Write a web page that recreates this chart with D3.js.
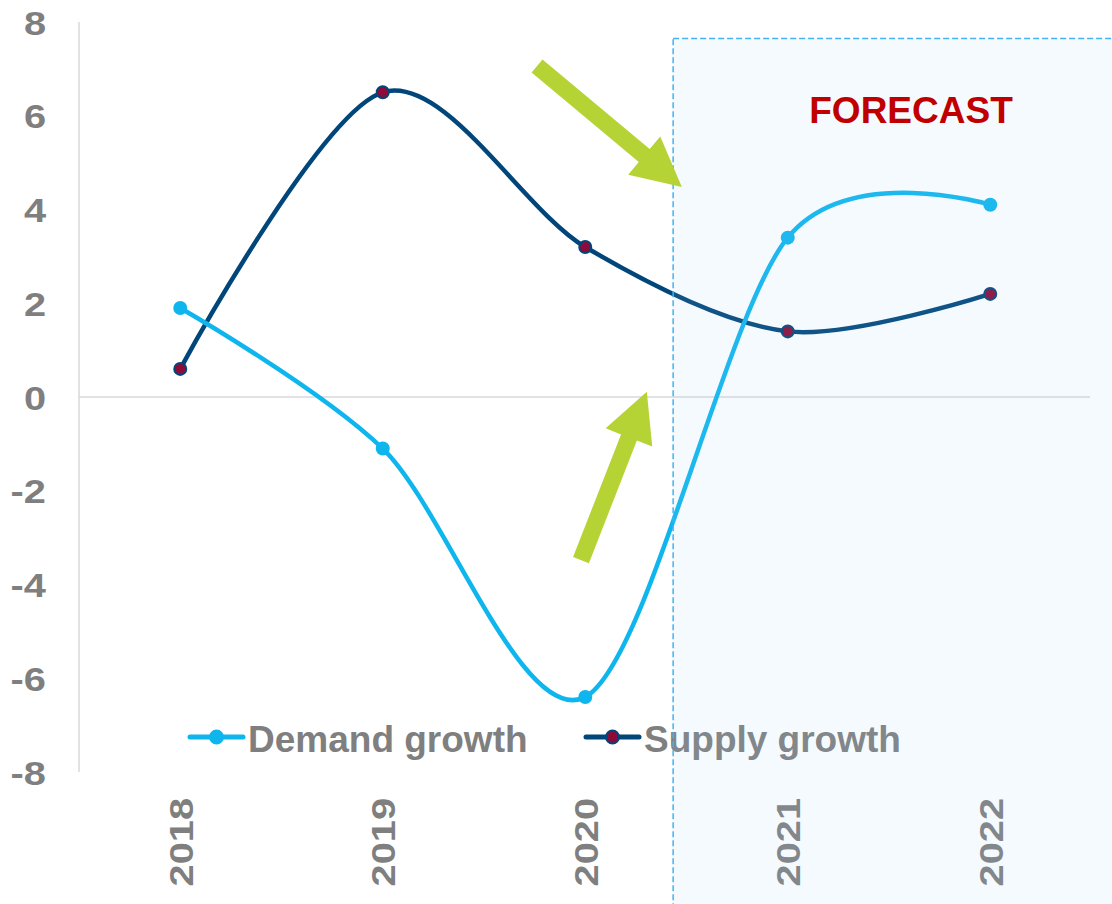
<!DOCTYPE html>
<html>
<head>
<meta charset="utf-8">
<script src="https://cdn.jsdelivr.net/npm/d3@7/dist/d3.min.js"></script>
<style>
  html, body { margin: 0; padding: 0; background: #ffffff; }
  svg { display: block; font-family: "Liberation Sans", Arial, sans-serif; }
</style>
</head>
<body>
<svg id="chart" width="1112" height="904"></svg>
<script>
// ---- data ----
const years = ["2018", "2019", "2020", "2021", "2022"];
const demandGrowth = [1.9, -1.1, -6.4, 3.4, 4.1];
const supplyGrowth = [0.6, 6.5, 3.2, 1.4, 2.2];
const seriesNames = ["Demand growth", "Supply growth"];
const yTicks = [-8, -6, -4, -2, 0, 2, 4, 6, 8];
const forecastLabel = "FORECAST";
// annotation arrows in data space: [fractional year index, value] tail -> tip
const arrows = [
  { from: [1.762, 7.06], to: [2.477, 4.48] },
  { from: [1.979, -3.48], to: [2.304, 0.11] }
];
const forecastStart = 2.434; // fractional year index where forecast area begins
const forecastTop = 7.65;

// ---- layout ----
const W = 1112, H = 904;
const plotLeft = 79, plotRight = 1091.5, plotTop = 22, plotBottom = 772;
const svg = d3.select("#chart");

const x = d3.scalePoint().domain(years).range([plotLeft, plotRight]).padding(0.5);
const step = x.step();
const xi = i => x(years[0]) + i * step;
const y = d3.scaleLinear().domain([-8, 8]).range([plotBottom, plotTop]);

const gray = "#7f7f7f";
const demandColor = "#0fb6ee";
const supplyColor = "#00467a";
const markerFill = "#8b0b3a";
const textStretch = 1.17;

// axis line
svg.append("line")
  .attr("x1", plotLeft).attr("x2", plotLeft)
  .attr("y1", y(8)).attr("y2", y(-8))
  .attr("stroke", "#d9d9d9").attr("stroke-width", 1.5);
// zero line
svg.append("line")
  .attr("x1", plotLeft).attr("x2", 1090)
  .attr("y1", y(0)).attr("y2", y(0))
  .attr("stroke", "#d9d9d9").attr("stroke-width", 1.5);

// y axis
const yAxisG = svg.append("g")
  .attr("transform", `translate(${plotLeft},0)`)
  .call(d3.axisLeft(y).tickValues(yTicks).tickSize(0).tickFormat(d => String(d)));
yAxisG.select(".domain").remove();
yAxisG.selectAll("text")
  .attr("x", 0).attr("dy", "0.36em")
  .attr("transform", `translate(-33,0) scale(${textStretch},1)`)
  .attr("text-anchor", "end")
  .attr("fill", gray)
  .style("font-size", "34px").style("font-weight", "bold")
  .style("font-family", '"Liberation Sans", Arial, sans-serif');

// x axis
const xAxisG = svg.append("g")
  .attr("transform", `translate(0,${plotBottom})`)
  .call(d3.axisBottom(x).tickSize(0));
xAxisG.select(".domain").remove();
xAxisG.selectAll("text")
  .attr("x", 0).attr("y", 0).attr("dy", "0.36em")
  .attr("transform", `translate(0,26) rotate(-90) scale(${textStretch},1)`)
  .attr("text-anchor", "end")
  .attr("fill", gray)
  .style("font-size", "34px").style("font-weight", "bold")
  .style("font-family", '"Liberation Sans", Arial, sans-serif');

// lines
const line = d3.line()
  .x((d, i) => x(years[i]))
  .y(d => y(d))
  .curve(d3.curveCardinal.tension(0.08));

svg.append("path").datum(supplyGrowth)
  .attr("d", line).attr("fill", "none")
  .attr("stroke", supplyColor).attr("stroke-width", 4.5);
svg.append("path").datum(demandGrowth)
  .attr("d", line).attr("fill", "none")
  .attr("stroke", demandColor).attr("stroke-width", 4.5);

svg.append("g").selectAll("circle").data(supplyGrowth).join("circle")
  .attr("cx", (d, i) => x(years[i])).attr("cy", d => y(d))
  .attr("r", 6).attr("fill", markerFill)
  .attr("stroke", supplyColor).attr("stroke-width", 2);
svg.append("g").selectAll("circle").data(demandGrowth).join("circle")
  .attr("cx", (d, i) => x(years[i])).attr("cy", d => y(d))
  .attr("r", 7).attr("fill", demandColor);

// legend
const legendItems = [
  { name: seriesNames[0], color: demandColor, fill: demandColor, x0: 190 },
  { name: seriesNames[1], color: supplyColor, fill: markerFill, x0: 586 }
];
const legendY = 737;
const lg = svg.append("g").selectAll("g").data(legendItems).join("g")
  .attr("transform", d => `translate(${d.x0},${legendY})`);
lg.append("line").attr("x1", 0).attr("x2", 53).attr("y1", 0).attr("y2", 0)
  .attr("stroke", d => d.color).attr("stroke-width", 5).attr("stroke-linecap", "round");
lg.append("circle").attr("cx", 26.5).attr("cy", 0).attr("r", 6.5)
  .attr("fill", d => d.fill).attr("stroke", d => d.color).attr("stroke-width", 2);
lg.append("text").attr("x", 58).attr("y", 15)
  .attr("fill", gray)
  .style("font-size", "37px").style("font-weight", "bold")
  .text(d => d.name);

// forecast area overlay
const fx = xi(forecastStart), fy = y(forecastTop);
svg.append("rect")
  .attr("x", fx).attr("y", fy)
  .attr("width", W - fx + 2).attr("height", H - fy + 2)
  .attr("fill", "rgb(160,210,245)").attr("fill-opacity", 0.1)
  .attr("stroke", "#45b2f2").attr("stroke-width", 1.5)
  .attr("stroke-dasharray", "6,3");

svg.append("text")
  .attr("x", 911).attr("y", 123)
  .attr("text-anchor", "middle")
  .attr("fill", "#c00000")
  .style("font-size", "37px").style("font-weight", "bold")
  .text(forecastLabel);

// arrows
function arrowPath(x0, y0, x1, y1, shaftW, headW, headL) {
  const dx = x1 - x0, dy = y1 - y0;
  const len = Math.hypot(dx, dy);
  const ux = dx / len, uy = dy / len;
  const px = -uy, py = ux;
  const bx = x1 - ux * headL, by = y1 - uy * headL;
  const pts = [
    [x0 + px * shaftW / 2, y0 + py * shaftW / 2],
    [bx + px * shaftW / 2, by + py * shaftW / 2],
    [bx + px * headW / 2, by + py * headW / 2],
    [x1, y1],
    [bx - px * headW / 2, by - py * headW / 2],
    [bx - px * shaftW / 2, by - py * shaftW / 2],
    [x0 - px * shaftW / 2, y0 - py * shaftW / 2]
  ];
  return "M" + pts.map(p => p.join(",")).join("L") + "Z";
}
svg.append("g").selectAll("path").data(arrows).join("path")
  .attr("d", d => arrowPath(xi(d.from[0]), y(d.from[1]), xi(d.to[0]), y(d.to[1]), 17, 50, 49))
  .attr("fill", "#b5d334");
</script>
</body>
</html>
